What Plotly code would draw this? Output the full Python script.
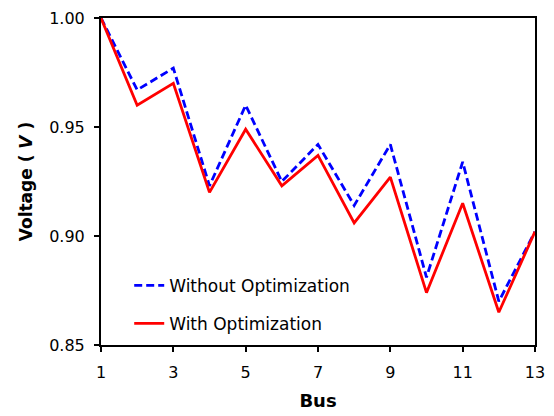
import plotly.graph_objects as go

bus = list(range(1, 14))
without_opt = [1.000, 0.967, 0.977, 0.923, 0.960, 0.925, 0.942, 0.914, 0.942, 0.881, 0.934, 0.870, 0.902]
with_opt = [1.000, 0.960, 0.970, 0.920, 0.949, 0.923, 0.937, 0.906, 0.927, 0.874, 0.915, 0.865, 0.902]
x_ticks = [1, 3, 5, 7, 9, 11, 13]
y_ticks = [0.85, 0.90, 0.95, 1.00]

font = "Verdana, DejaVu Sans, sans-serif"

fig = go.Figure()
fig.add_trace(go.Scatter(x=bus, y=without_opt, mode="lines", name="Without Optimization",
                         legendgroup="a",
                         line=dict(color="#0000ff", width=2.8, dash="8px,4px")))
fig.add_trace(go.Scatter(x=bus, y=with_opt, mode="lines", name="With Optimization",
                         legendgroup="b",
                         line=dict(color="#ff0000", width=2.8)))

fig.update_layout(
    width=554, height=416,
    margin=dict(l=101, r=19, t=18, b=71),
    paper_bgcolor="white", plot_bgcolor="white",
    font=dict(family=font, size=16, color="black"),
    showlegend=True,
    legend=dict(x=0.065, y=0.01, xanchor="left", yanchor="bottom",
                bgcolor="rgba(0,0,0,0)", font=dict(size=17, family=font),
                tracegroupgap=13),
    xaxis=dict(range=[1, 13], tickvals=x_ticks, showgrid=False, zeroline=False,
               showline=True, linecolor="black", linewidth=2, mirror=True,
               ticks="outside", ticklen=5, tickwidth=2, tickcolor="black",
               tickfont=dict(size=16), ticklabelstandoff=7, automargin=False,
               title=dict(text="<b>Bus</b>", font=dict(size=18, family=font), standoff=13)),
    yaxis=dict(range=[0.85, 1.00], tickvals=y_ticks, tickformat=".2f", showgrid=False, zeroline=False,
               showline=True, linecolor="black", linewidth=2, mirror=True,
               ticks="outside", ticklen=5, tickwidth=2, tickcolor="black",
               tickfont=dict(size=16), ticklabelstandoff=6, automargin=False,
               title=dict(text="<b>Voltage ( <i>V</i> )</b>", font=dict(size=17, family=font), standoff=12)),
)

fig.write_html("out.html", config={"displayModeBar": False},
               post_script="document.body.style.margin='0';")
